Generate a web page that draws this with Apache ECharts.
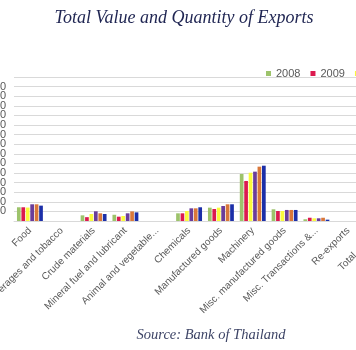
<!DOCTYPE html>
<html>
<head>
<meta charset="utf-8">
<script src="https://cdn.jsdelivr.net/npm/echarts@6/dist/echarts.min.js"></script>
<style>html,body{margin:0;padding:0;background:#fff;}#c{width:356px;height:350px;}</style>
</head>
<body>
<div id="c"></div>
<script>
// Export categories
var categories = ['Food', 'Beverages and tobacco', 'Crude materials', 'Mineral fuel and lubricant',
  'Animal and vegetable...', 'Chemicals', 'Manufactured goods', 'Machinery',
  'Misc. manufactured goods', 'Misc. Transactions &...', 'Re-exports', 'Total exports'];
var years = ['2008', '2009', '2010', '2011', '2012', '2013'];
// values
var v2008 = [715000, 0, 295000, 325000, 0, 400000, 695000, 2450000, 610000, 90000, 0, null];
var v2009 = [715000, 0, 200000, 225000, 0, 400000, 625000, 2085000, 520000, 170000, 0, null];
var v2010 = [700000, 0, 365000, 260000, 0, 520000, 695000, 2515000, 520000, 140000, 0, null];
var v2011 = [870000, 0, 505000, 400000, 0, 660000, 780000, 2570000, 575000, 140000, 0, null];
var v2012 = [870000, 0, 400000, 500000, 0, 660000, 870000, 2830000, 575000, 170000, 0, null];
var v2013 = [800000, 0, 365000, 450000, 0, 715000, 870000, 2880000, 575000, 70000, 0, null];
var yTicks = { min: 0, max: 7500000, interval: 500000 };
var colors = ['#9dc36b', '#dc1a4f', '#fafa3c', '#6a3d9a', '#d9773a', '#1c2fa8'];
var seriesValues = [v2008, v2009, v2010, v2011, v2012, v2013];

var chart = echarts.init(document.getElementById('c'), null, { renderer: 'canvas' });
var series = years.map(function (y, i) {
  return {
    name: y, type: 'bar', data: seriesValues[i],
    barWidth: 3.7, barGap: '20%',
    itemStyle: { color: colors[i] }
  };
});
chart.setOption({
  backgroundColor: '#fff',
  animation: false,
  color: colors,
  title: [{
    text: 'Total Value and Quantity of Exports',
    left: 179, top: 4, textAlign: 'center',
    textStyle: { fontFamily: 'Liberation Serif', fontStyle: 'italic', fontWeight: 'normal', fontSize: 18, color: '#1f2552' }
  }, {
    text: 'Source: Bank of Thailand',
    left: 206, top: 323, textAlign: 'center',
    textStyle: { fontFamily: 'Liberation Serif', fontStyle: 'italic', fontWeight: 'normal', fontSize: 14.5, color: '#3d4466' }
  }],
  legend: {
    data: years, left: 261, top: 63, width: 500,
    itemWidth: 5, itemHeight: 5, itemGap: 10, icon: 'rect',
    textStyle: { fontFamily: 'Liberation Sans', fontSize: 11, color: '#595959' }
  },
  grid: { left: 14, top: 77, width: 382, height: 144, containLabel: false, outerBoundsMode: 'none' },
  xAxis: {
    type: 'category', data: categories,
    axisLine: { lineStyle: { color: '#d9d9d9' } },
    axisTick: { show: false },
    axisLabel: { rotate: 45, interval: 0, margin: 8, fontFamily: 'Liberation Sans', fontSize: 10, color: '#595959' }
  },
  yAxis: {
    type: 'value', min: yTicks.min, max: yTicks.max, interval: yTicks.interval,
    axisLine: { show: false }, axisTick: { show: false },
    splitLine: { lineStyle: { color: '#d9d9d9' } },
    axisLabel: { margin: 8, fontFamily: 'Liberation Sans', fontSize: 11, color: '#595959' }
  },
  series: series
});
</script>
</body>
</html>
